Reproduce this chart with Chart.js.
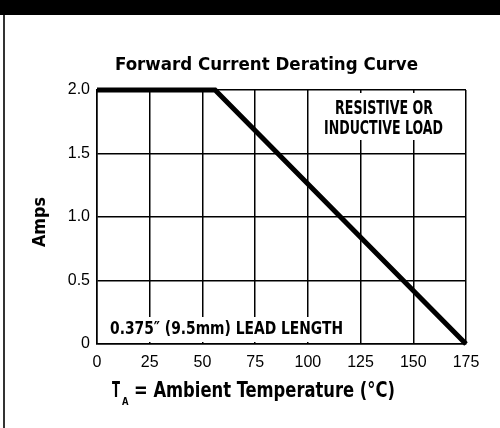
<!DOCTYPE html>
<html lang="en">
<head>
<meta charset="UTF-8">
<title>Forward Current Derating Curve</title>
<style>
  body { margin: 0; background: #ffffff; }
  #wrap { width: 500px; height: 428px; position: relative; }
</style>
<script src="https://cdn.jsdelivr.net/npm/chart.js"></script>
</head>
<body>
<div id="wrap"><canvas id="chart" width="500" height="428"></canvas></div>
<script>
// data
const temps = [0, 56, 175];          // degrees C
const amps = [2.0, 2.0, 0];          // A
const xTicks = [0, 25, 50, 75, 100, 125, 150, 175];
const yTicks = [0, 0.5, 1.0, 1.5, 2.0];
const yLabels = ['0', '0.5', '1.0', '1.5', '2.0'];

const NARROW = '"Liberation Sans Narrow", "DejaVu Sans Condensed", "Liberation Sans", sans-serif';

// draw text squeezed/stretched to a given width
function fitText(ctx, text, x, baseline, width, size) {
    ctx.save();
    ctx.font = 'bold ' + size + 'px ' + NARROW;
    ctx.textBaseline = 'alphabetic';
    ctx.textAlign = 'left';
    const w = ctx.measureText(text).width;
    ctx.translate(x, baseline);
    ctx.scale(width / w, 1);
    ctx.fillStyle = '#000';
    ctx.fillText(text, 0, 0);
    ctx.restore();
}

const decor = {
    id: 'decor',
    beforeDraw(chart) {
        const ctx = chart.ctx;
        ctx.save();
        ctx.fillStyle = '#fff';
        ctx.fillRect(0, 0, chart.width, chart.height);
        ctx.fillStyle = '#000';
        ctx.fillRect(0, 0, chart.width, 15);
        ctx.fillStyle = '#333';
        ctx.fillRect(3, 15, 2, chart.height - 15);
        ctx.restore();
    },
    beforeDatasetsDraw(chart) {
        // white boxes behind the notes cut the grid
        const ctx = chart.ctx;
        ctx.save();
        ctx.fillStyle = '#fff';
        ctx.fillRect(322, 93, 124, 47);
        ctx.fillRect(104, 317, 244, 25);
        ctx.restore();
    },
    afterDraw(chart) {
        const ctx = chart.ctx;
        fitText(ctx, 'Forward Current Derating Curve', 115, 70, 303, 18);
        fitText(ctx, 'RESISTIVE OR', 335, 114, 98, 19);
        fitText(ctx, 'INDUCTIVE LOAD', 324, 134, 119, 19);
        fitText(ctx, '0.375\u2033 (9.5mm) LEAD LENGTH', 110, 334, 233, 18);

        // x axis title with subscript
        fitText(ctx, 'T', 112, 397, 8, 21);
        fitText(ctx, 'A', 122, 405, 6.5, 10);
        fitText(ctx, '= Ambient Temperature (\u00B0C)', 134, 397, 261, 21);

        // y axis title
        ctx.save();
        ctx.translate(45, 247);
        ctx.rotate(-Math.PI / 2);
        fitText(ctx, 'Amps', 0, 0, 50, 18);
        ctx.restore();
    }
};

new Chart(document.getElementById('chart'), {
    type: 'line',
    data: {
        datasets: [{
            data: temps.map((t, i) => ({ x: t, y: amps[i] })),
            borderColor: '#000',
            borderWidth: 5,
            pointRadius: 0,
            tension: 0,
            borderJoinStyle: 'miter',
            clip: false
        }]
    },
    options: {
        responsive: false,
        animation: false,
        layout: { padding: { top: 90, right: 34, left: 0, bottom: 0 } },
        plugins: { legend: { display: false }, title: { display: false }, tooltip: { enabled: false } },
        scales: {
            x: {
                type: 'linear',
                min: 0,
                max: 175,
                afterBuildTicks: s => { s.ticks = xTicks.map(v => ({ value: v })); },
                afterFit: s => { s.height = 84; },
                ticks: {
                    color: '#000',
                    padding: 9,
                    maxRotation: 0,
                    autoSkip: false,
                    font: { family: '"Liberation Sans", Arial, sans-serif', size: 16 }
                },
                grid: { color: '#000', lineWidth: 1.5, drawTicks: false },
                border: { color: '#000', width: 1.5 }
            },
            y: {
                min: 0,
                max: 2,
                afterBuildTicks: s => { s.ticks = yTicks.map(v => ({ value: v })); },
                afterFit: s => { s.width = 97; },
                ticks: {
                    color: '#000',
                    padding: 7,
                    autoSkip: false,
                    callback: (v, i) => yLabels[i],
                    font: { family: '"Liberation Sans", Arial, sans-serif', size: 16 }
                },
                grid: { color: '#000', lineWidth: 1.5, drawTicks: false },
                border: { color: '#000', width: 1.5 }
            }
        }
    },
    plugins: [decor]
});
</script>
</body>
</html>
